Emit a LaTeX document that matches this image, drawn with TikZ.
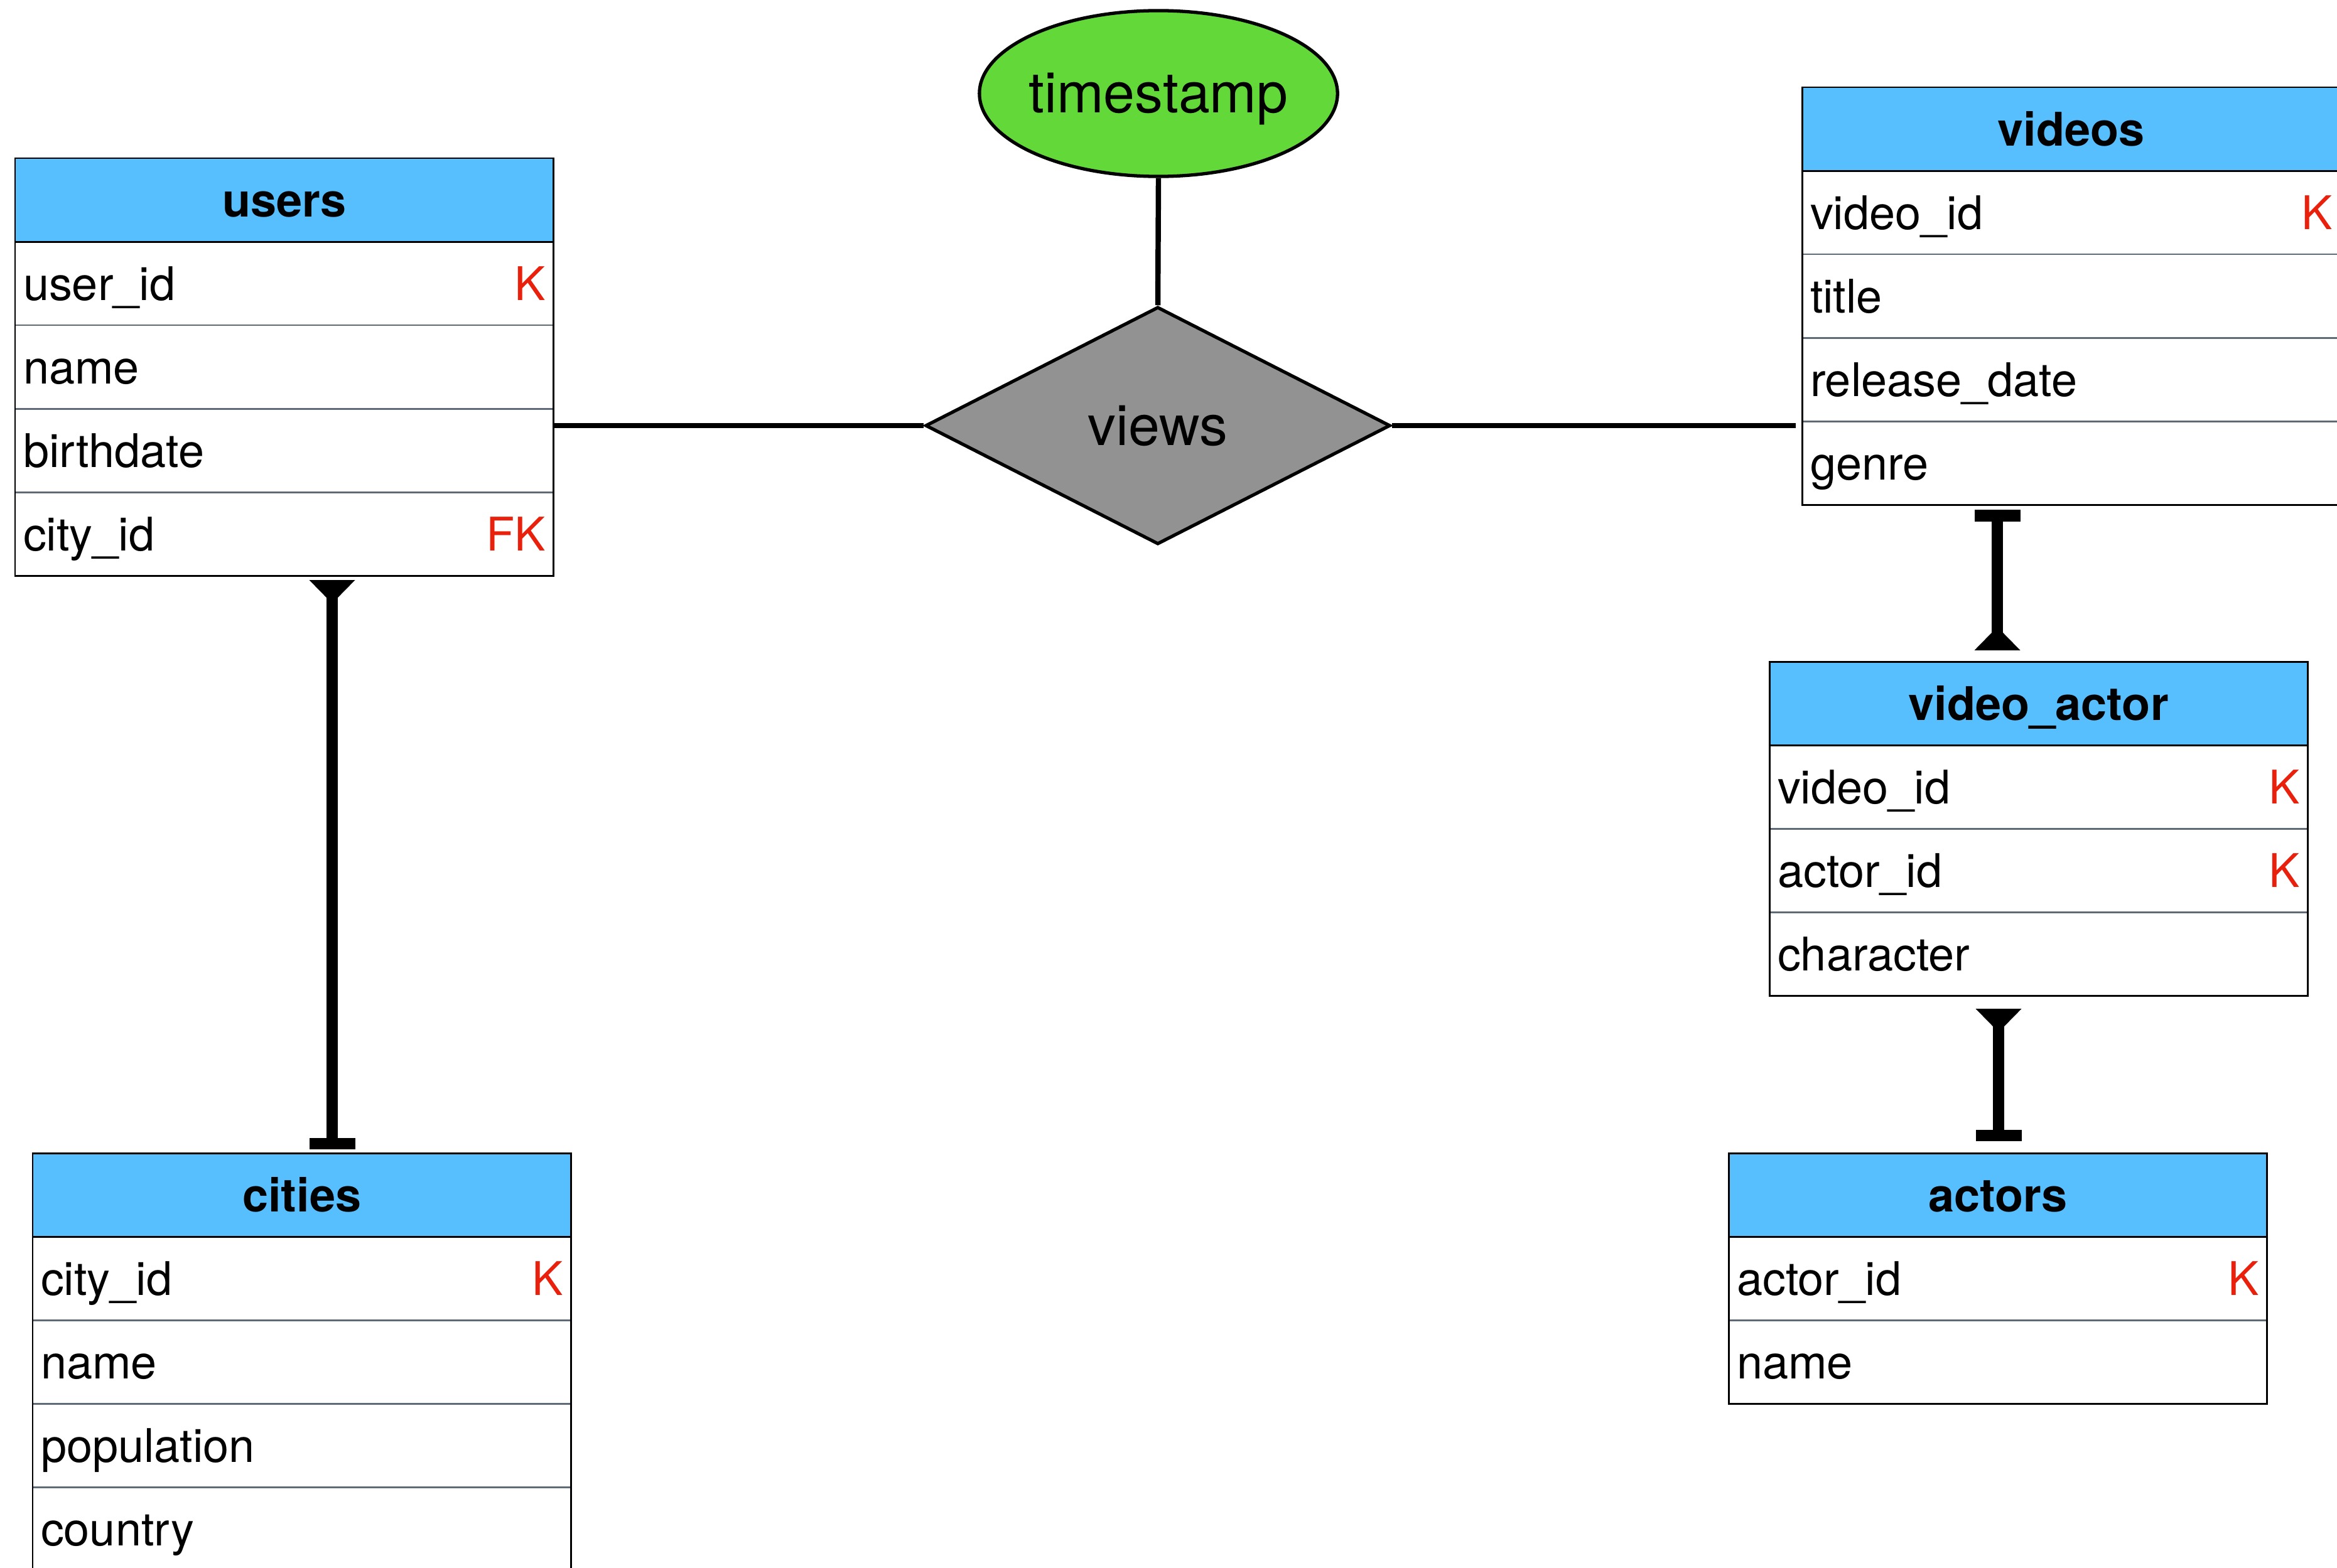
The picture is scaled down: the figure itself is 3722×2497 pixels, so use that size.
\documentclass[tikz,border=0pt]{standalone}
\usepackage{fontspec}
\setmainfont{TeX Gyre Heros}
\usetikzlibrary{shapes.geometric,calc}
\definecolor{hdrblue}{HTML}{58BFFF}
\definecolor{attrgreen}{HTML}{62D938}
\definecolor{relgray}{HTML}{929292}
\definecolor{keyred}{HTML}{E8200C}
\definecolor{sepgray}{HTML}{5E6B77}
\newcommand\ertbl[6]{%
  \foreach \f/\k [count=\i] in {#6}{%
    \node[tblrow] (#1-\i) at (#2,{#3+133*\i}) {\f\hfill\textcolor{keyred}{\k}};
  }
  \node[tblhead] (#1) at (#2,#3) {#4};
  \draw[tblframe] (#1.north west) rectangle (#1-#5.south east);
}
\begin{document}
\begin{tikzpicture}[x=0.01cm,y=-0.01cm,
  tblhead/.style={draw=black, line width=0.85pt, fill=hdrblue, anchor=north west,
    minimum width=8.57cm, inner sep=0pt, outer sep=0pt, text width=8.57cm, align=center,
    text height=0.93cm, text depth=0.40cm, font=\fontsize{21}{25}\selectfont\bfseries},
  tblrow/.style={draw=sepgray, line width=0.85pt, fill=white, anchor=north west,
    inner xsep=0.13cm, inner ysep=0pt, outer sep=0pt, text width=8.31cm, align=left,
    text height=0.93cm, text depth=0.40cm, font=\fontsize{21}{25}\selectfont},
  tblframe/.style={draw=black, line width=0.85pt},
  attr/.style={ellipse, draw=black, line width=1.5pt, fill=attrgreen, inner ysep=0pt,
    inner xsep=-0.15cm,
    minimum width=5.70cm, minimum height=2.64cm, text height=0.60cm, text depth=0pt,
    font=\fontsize{25.5}{30}\selectfont},
  rel/.style={diamond, draw=black, line width=1.5pt, fill=relgray, inner sep=0pt,
    aspect=1.96, minimum width=7.40cm, minimum height=3.78cm, text height=0.62cm, text depth=0pt,
    font=\fontsize{25.5}{30}\selectfont},
  conn/.style={draw=black, line width=2.4pt},
  stem/.style={draw=black, line width=5.12pt},
  tipfill/.style={fill=black}
]
\useasboundingbox (0,0) rectangle (3722,2497);

% entities
\ertbl{users}{24}{252}{users}{4}{user\_id/K, name/{}, birthdate/{}, city\_id/FK}
\ertbl{cities}{52}{1837}{cities}{4}{city\_id/K, name/{}, population/{}, country/{}}
\ertbl{videos}{2870}{139}{videos}{4}{video\_id/K, title/{}, release\_date/{}, genre/{}}
\ertbl{vact}{2818}{1054}{video\_actor}{3}{video\_id/K, actor\_id/K, character/{}}
\ertbl{actors}{2753}{1837}{actors}{2}{actor\_id/K, name/{}}

% relationship and attribute
\node[attr] (ts) at (1845,149) {timestamp};
\node[rel] (views) at (1844,678) {views};

\draw[conn] (ts.south) -- (views.north);
\draw[conn] (views.west -| users.east) -- (views.west);
\coordinate (vend) at ($(views.east -| videos.west)+(-10,0)$);
\draw[conn] (views.east) -- (vend);

% users -- cities
\coordinate (uc1) at ($(users-4.south west)+(505,7)$);
\coordinate (uc2) at ($(cities.north west)+(477,-6)$);
\draw[stem] (uc1) -- (uc2);
\fill[tipfill] ($(uc1)+(-36.5,0)$) -- ++(73,0) -- ++(-27.5,28) -- ++(-18,0) -- cycle;
\fill[tipfill] ($(uc2)+(-36.5,0)$) rectangle ++(73,-18);

% videos -- video_actor
\coordinate (va1) at ($(videos-4.south west)+(311,8)$);
\coordinate (va2) at ($(vact.north west)+(363,-18)$);
\draw[stem] (va1) -- (va2);
\fill[tipfill] ($(va1)+(-36.5,0)$) rectangle ++(73,19);
\fill[tipfill] ($(va2)+(-36.5,0)$) -- ++(73,0) -- ++(-27.5,-28) -- ++(-18,0) -- cycle;

% video_actor -- actors
\coordinate (aa1) at ($(vact-3.south west)+(365,21)$);
\coordinate (aa2) at ($(actors.north west)+(430,-19)$);
\draw[stem] (aa1) -- (aa2);
\fill[tipfill] ($(aa1)+(-36.5,0)$) -- ++(73,0) -- ++(-27.5,28) -- ++(-18,0) -- cycle;
\fill[tipfill] ($(aa2)+(-36.5,0)$) rectangle ++(73,-18);
\end{tikzpicture}
\end{document}
